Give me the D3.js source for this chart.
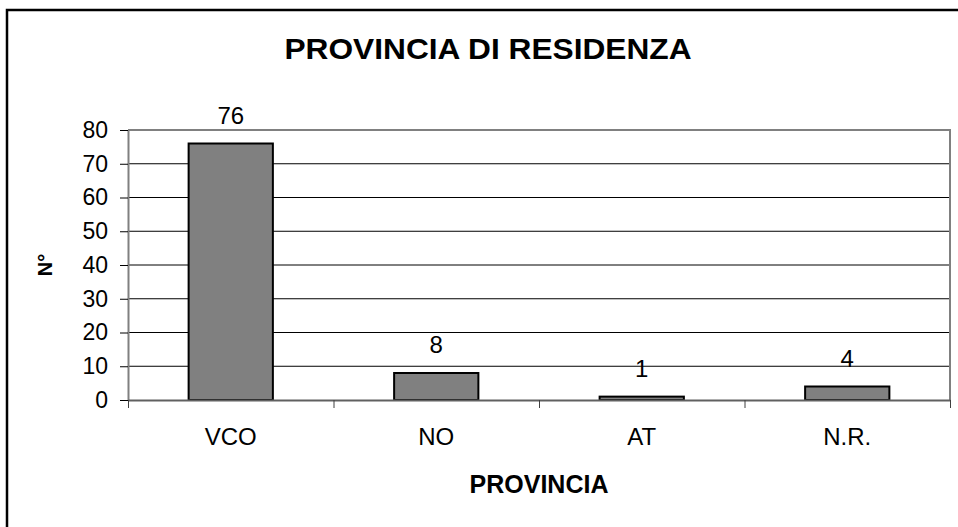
<!DOCTYPE html>
<html>
<head>
<meta charset="utf-8">
<script src="https://cdn.jsdelivr.net/npm/d3@7"></script>
<style>
  body { margin: 0; background: #fff; }
  svg text { font-family: "Liberation Sans", Arial, sans-serif; fill: #000; }
</style>
</head>
<body>
<div id="chart"></div>
<script>
var province = ["VCO", "NO", "AT", "N.R."];
var counts = [76, 8, 1, 4];
var yTicks = [0, 10, 20, 30, 40, 50, 60, 70, 80];

var W = 958, H = 527;
var plotLeft = 128, plotRight = 950, plotTop = 130, plotBottom = 400;

var svg = d3.select("#chart").append("svg")
  .attr("width", W)
  .attr("height", H);

svg.append("rect")
  .attr("x", 7).attr("y", 10)
  .attr("width", 980).attr("height", 540)
  .attr("fill", "#fff")
  .attr("stroke", "#000")
  .attr("stroke-width", 2.5);

var x = d3.scaleBand().domain(province).range([plotLeft, plotRight])
  .paddingInner(0.59).paddingOuter(0.295);
var xEdge = d3.scaleLinear().domain([0, province.length]).range([plotLeft, plotRight]);
var y = d3.scaleLinear().domain([0, 80]).range([plotBottom, plotTop]);

// gridlines
svg.append("g").selectAll("line")
  .data(yTicks.filter(function (d) { return d > 0 && d < 80; }))
  .enter().append("line")
  .attr("x1", plotLeft).attr("x2", plotRight)
  .attr("y1", function (d) { return y(d); })
  .attr("y2", function (d) { return y(d); })
  .attr("stroke", "#000")
  .attr("stroke-width", 1);

// plot frame top / right
svg.append("path")
  .attr("d", "M" + plotLeft + "," + y(80) + "H" + plotRight + "V" + plotBottom)
  .attr("fill", "none")
  .attr("stroke", "#808080")
  .attr("stroke-width", 2);

// bars
svg.append("g").selectAll("rect")
  .data(counts)
  .enter().append("rect")
  .attr("x", function (d, i) { return x(province[i]); })
  .attr("y", function (d) { return y(d); })
  .attr("width", x.bandwidth())
  .attr("height", function (d) { return y(0) - y(d); })
  .attr("fill", "#808080")
  .attr("stroke", "#000")
  .attr("stroke-width", 2);

// value labels
svg.append("g").selectAll("text")
  .data(counts)
  .enter().append("text")
  .attr("x", function (d, i) { return x(province[i]) + x.bandwidth() / 2; })
  .attr("y", function (d) { return y(d) - 20; })
  .attr("text-anchor", "middle")
  .style("font-size", "24px")
  .text(function (d) { return d; });

// y axis
var yAxis = svg.append("g")
  .attr("transform", "translate(" + plotLeft + ",0)")
  .call(d3.axisLeft(y).tickValues(yTicks).tickSize(8).tickPadding(12).tickSizeOuter(0));
yAxis.select(".domain").attr("stroke", "#808080").attr("stroke-width", 2);
yAxis.selectAll(".tick line").attr("stroke", "#000");
yAxis.selectAll(".tick text").style("font-size", "23px");

// x axis: boundary ticks
var xTicks = svg.append("g")
  .attr("transform", "translate(0," + plotBottom + ")")
  .call(d3.axisBottom(xEdge).tickValues(d3.range(0, province.length + 1)).tickSize(8).tickFormat("").tickSizeOuter(0));
xTicks.select(".domain").attr("stroke", "#606060").attr("stroke-width", 2);
xTicks.selectAll(".tick line").attr("stroke", "#404040");

// x axis: category labels
var xLabels = svg.append("g")
  .attr("transform", "translate(0," + plotBottom + ")")
  .call(d3.axisBottom(x).tickSize(0).tickPadding(28));
xLabels.select(".domain").remove();
xLabels.selectAll(".tick text").style("font-size", "24px");

// title
svg.append("text")
  .attr("x", 488).attr("y", 59)
  .attr("text-anchor", "middle")
  .attr("textLength", 407)
  .attr("lengthAdjust", "spacingAndGlyphs")
  .style("font-size", "30px")
  .style("font-weight", "bold")
  .text("PROVINCIA DI RESIDENZA");

// axis titles
svg.append("text")
  .attr("x", (plotLeft + plotRight) / 2).attr("y", 493)
  .attr("text-anchor", "middle")
  .style("font-size", "25px")
  .style("font-weight", "bold")
  .text("PROVINCIA");

svg.append("text")
  .attr("transform", "translate(52," + (plotTop + plotBottom) / 2 + ") rotate(-90)")
  .attr("text-anchor", "middle")
  .style("font-size", "20px")
  .style("font-weight", "bold")
  .text("N°");
</script>
</body>
</html>
